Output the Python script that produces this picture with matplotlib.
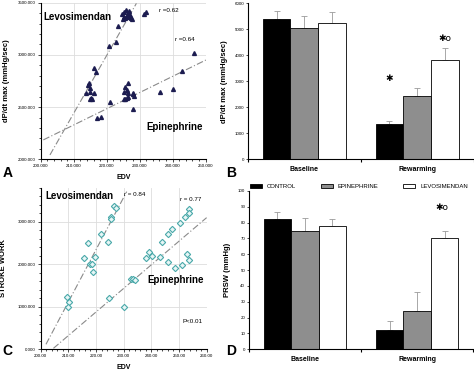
import matplotlib.pyplot as plt
import numpy as np

plt.rcParams['font.family'] = ['Liberation Sans', 'DejaVu Sans']

# ---- panel A : dP/dt max vs EDV
a_levo_x = [224.6, 225.3, 225.9, 226.4, 226.9, 225.1, 225.6, 226.1, 226.6, 227.2, 227.4, 224.9, 227.7,
            231.2, 231.9, 223.4, 222.9, 220.6, 216.3, 216.7, 214.5, 214.2, 214.8, 215.0, 213.8, 216.3,
            215.3, 214.8, 215.5]
a_levo_y = [3391, 3414, 3430, 3404, 3423, 3366, 3350, 3372, 3360, 3382, 3350, 3340, 3340,
            3391, 3414, 3277, 3127, 3085, 2878, 2833, 2728, 2712, 2680, 2648, 2639, 2639,
            2584, 2578, 2578]
a_epi_x = [226.6, 225.6, 226.1, 225.1, 226.4, 226.6, 226.1, 225.6, 225.1, 228.0, 228.0, 228.2,
           220.9, 217.0, 218.3, 228.0, 236.1, 240.0, 242.7, 246.4]
a_epi_y = [2728, 2690, 2664, 2648, 2639, 2600, 2584, 2578, 2575, 2639, 2623, 2604,
           2546, 2393, 2409, 2486, 2648, 2674, 2849, 3021]
a_levo_fit_x = [202.8, 229.0]
a_levo_fit_y = [2042, 3494]
a_epi_fit_x = [200.8, 250.5]
a_epi_fit_y = [2186, 2958]
a_xticks = [200, 210, 220, 230, 240, 250]
a_xticklabels = ["200.000", "210.000", "220.000", "230.000", "240.000", "250.000"]
a_yticks = [2000, 2500, 3000, 3500]
a_yticklabels = ["2000.000", "2500.000", "3000.000", "3500.000"]

# ---- panel C : stroke work vs EDV
c_levo_x = [226.6, 227.2, 225.4, 225.5, 221.8, 224.2, 217.2, 215.7, 219.6, 217.8, 218.7, 219.0,
            209.4, 210.2, 210.0]
c_levo_y = [3375, 3328, 3101, 3054, 2709, 2529, 2490, 2153, 2177, 1997, 1997, 1825,
            1222, 1104, 1002]
c_epi_x = [224.7, 230.1, 232.5, 233.3, 234.0, 238.0, 239.0, 240.2, 243.1, 243.9, 246.0, 247.5,
           246.1, 248.4, 250.4, 252.2, 251.1, 252.9, 253.7, 253.7, 253.8]
c_epi_y = [1198, 987, 1652, 1652, 1637, 2138, 2294, 2200, 2169, 2522, 2717, 2827,
           2044, 1919, 2968, 3109, 1981, 2232, 2091, 3289, 3203]
c_levo_fit_x = [201.9, 231.1]
c_levo_fit_y = [117, 3704]
c_epi_fit_x = [204.6, 260.0]
c_epi_fit_y = [23, 3093]
c_xticks = [200, 210, 220, 230, 240, 250, 260]
c_xticklabels = ["200.00", "210.00", "220.00", "230.00", "240.00", "250.00", "260.00"]
c_yticks = [0, 1000, 2000, 3000]
c_yticklabels = ["0.000", "1000.000", "2000.000", "3000.000"]

# ---- bar panels
groups = ["Baseline", "Rewarming"]
series = ["CONTROL", "EPINEPHRINE", "LEVOSIMENDAN"]
b_means = [[5420, 1360], [5060, 2450], [5250, 3820]]
b_err = [[300, 130], [460, 280], [430, 450]]
d_means = [[82, 12], [75, 24.5], [78, 70]]
d_err = [[5, 6], [8, 12], [4, 5]]

bar_face = ["black", "#8e8e8e", "white"]
fs_tick = 3.2
sig_font = ["DejaVu Sans"]

fig = plt.figure(figsize=(4.74, 3.71), dpi=100)


def scatter_panel(ax, lx, ly, ex, ey, lfx, lfy, efx, efy, marker, mkw):
    ax.plot(lfx, lfy, color="#8a8a8a", ls=(0, (6, 2, 1, 2)), lw=0.8, zorder=1)
    ax.plot(efx, efy, color="#8a8a8a", ls=(0, (6, 2, 1, 2)), lw=0.8, zorder=1)
    ax.plot(lx, ly, ls="none", marker=marker, **mkw, zorder=3)
    ax.plot(ex, ey, ls="none", marker=marker, **mkw, zorder=3)
    ax.grid(True, color="#dddddd", lw=0.6)
    ax.set_axisbelow(True)
    for s in ["top", "right"]:
        ax.spines[s].set_visible(False)
    for s in ["left", "bottom"]:
        ax.spines[s].set_linewidth(0.8)
    ax.tick_params(which="both", length=2, width=0.5, labelsize=fs_tick, pad=1.5)
    ax.tick_params(which="minor", length=1.5)


# A
axA = fig.add_axes([0.0859, 0.5706, 0.348, 0.422])
scatter_panel(axA, a_levo_x, a_levo_y, a_epi_x, a_epi_y, a_levo_fit_x, a_levo_fit_y,
              a_epi_fit_x, a_epi_fit_y, "^",
              dict(ms=2.8, mfc="#1c1c50", mec="#1c1c50"))
axA.set_xlim(200, 250)
axA.set_ylim(2000, 3500)
axA.set_xticks(a_xticks, a_xticklabels)
axA.set_yticks(a_yticks, a_yticklabels)
axA.set_xticks(np.arange(200, 251, 2), minor=True)
axA.set_yticks(np.arange(2000, 3501, 100), minor=True)
axA.set_xlabel("EDV", fontsize=5, fontweight="bold", labelpad=4)
axA.set_ylabel("dP/dt max (mmHg/sec)", fontsize=5.5, fontweight="bold", labelpad=6)
axA.text(0.015, 0.89, "Levosimendan", transform=axA.transAxes, fontsize=7, fontweight="bold")
axA.text(0.64, 0.19, "Epinephrine", transform=axA.transAxes, fontsize=7, fontweight="bold")
axA.text(0.715, 0.94, "r =0.62", transform=axA.transAxes, fontsize=4.5)
axA.text(0.815, 0.755, "r =0.64", transform=axA.transAxes, fontsize=4.5)

# C
axC = fig.add_axes([0.0859, 0.0585, 0.350, 0.436])
scatter_panel(axC, c_levo_x, c_levo_y, c_epi_x, c_epi_y, c_levo_fit_x, c_levo_fit_y,
              c_epi_fit_x, c_epi_fit_y, "D",
              dict(ms=3.2, mfc="#e8f6f6", mec="#4aa9aa", mew=0.8))
axC.set_xlim(200, 260)
axC.set_ylim(0, 3800)
axC.set_xticks(c_xticks, c_xticklabels)
axC.set_yticks(c_yticks, c_yticklabels)
axC.set_xticks(np.arange(200, 261, 2), minor=True)
axC.set_yticks(np.arange(0, 3801, 200), minor=True)
axC.set_xlabel("EDV", fontsize=5, fontweight="bold", labelpad=4)
axC.set_ylabel("STROKE WORK", fontsize=5.5, fontweight="bold", labelpad=8)
axC.text(0.03, 0.93, "Levosimendan", transform=axC.transAxes, fontsize=7, fontweight="bold")
axC.text(0.64, 0.41, "Epinephrine", transform=axC.transAxes, fontsize=7, fontweight="bold")
axC.text(0.505, 0.945, "r = 0.84", transform=axC.transAxes, fontsize=4.5)
axC.text(0.84, 0.915, "r = 0.77", transform=axC.transAxes, fontsize=4.5)
axC.text(0.855, 0.16, "P<0.01", transform=axC.transAxes, fontsize=4.5)


def bar_panel(ax, means, errs, ymax, ystep):
    w = 0.245
    centers = np.array([0.5, 1.5])
    for i in range(3):
        pos = centers + (i - 1) * w
        ax.bar(pos, means[i], width=w, color=bar_face[i], edgecolor="black", lw=0.6, zorder=2)
        ax.errorbar(pos, means[i], yerr=[np.zeros(2), errs[i]], fmt="none",
                    ecolor="#9a9a9a", elinewidth=0.6, capsize=2.2, capthick=0.6, zorder=1)
    ax.set_xlim(0, 2)
    ax.set_ylim(0, ymax)
    ax.set_xticks([0, 1, 2], ["", "", ""])
    ax.set_xticks(centers, groups, minor=True)
    ax.tick_params(axis="x", which="minor", length=0, labelsize=5, pad=5)
    for lab in ax.get_xticklabels(minor=True):
        lab.set_fontweight("bold")
    ax.tick_params(axis="x", which="major", length=2, width=0.8)
    ax.set_yticks(np.arange(0, ymax + 1, ystep))
    ax.tick_params(axis="y", length=1.5, width=0.5, labelsize=fs_tick, pad=1)
    for s in ["top", "right"]:
        ax.spines[s].set_visible(False)
    for s in ["left", "bottom"]:
        ax.spines[s].set_linewidth(0.8)


# B
axB = fig.add_axes([0.523, 0.5706, 0.476, 0.420])
bar_panel(axB, b_means, b_err, 6000, 1000)
axB.set_ylabel("dP/dt max (mmHg/sec)", fontsize=5.5, fontweight="bold", labelpad=5)
axB.text(1.25, 3000, "\u2731", fontsize=6.5, ha="center", family=sig_font)
axB.text(1.745, 4550, "\u2731o", fontsize=6.5, ha="center", family=sig_font)

# D
axD = fig.add_axes([0.5247, 0.0585, 0.474, 0.4267])
bar_panel(axD, d_means, d_err, 100, 10)
axD.set_ylabel("PRSW (mmHg)", fontsize=5.5, fontweight="bold", labelpad=5)
axD.text(1.72, 88, "\u2731o", fontsize=6.5, ha="center", family=sig_font)

handles = [plt.Rectangle((0, 0), 1, 1, fc=bar_face[i], ec="black", lw=0.6) for i in range(3)]
fig.legend(handles, series, loc="center left", bbox_to_anchor=(0.527, 0.497), ncol=3,
           frameon=False, fontsize=4.3, handlelength=2.0, handleheight=0.7,
           columnspacing=4.2, handletextpad=0.8, borderpad=0, borderaxespad=0)

# panel letters
for lab, x, y in [("A", 0.005, 0.535), ("B", 0.478, 0.535), ("C", 0.005, 0.055), ("D", 0.478, 0.055)]:
    fig.text(x, y, lab, fontsize=10, fontweight="bold", va="center")

fig.savefig("out.png", dpi=100)
